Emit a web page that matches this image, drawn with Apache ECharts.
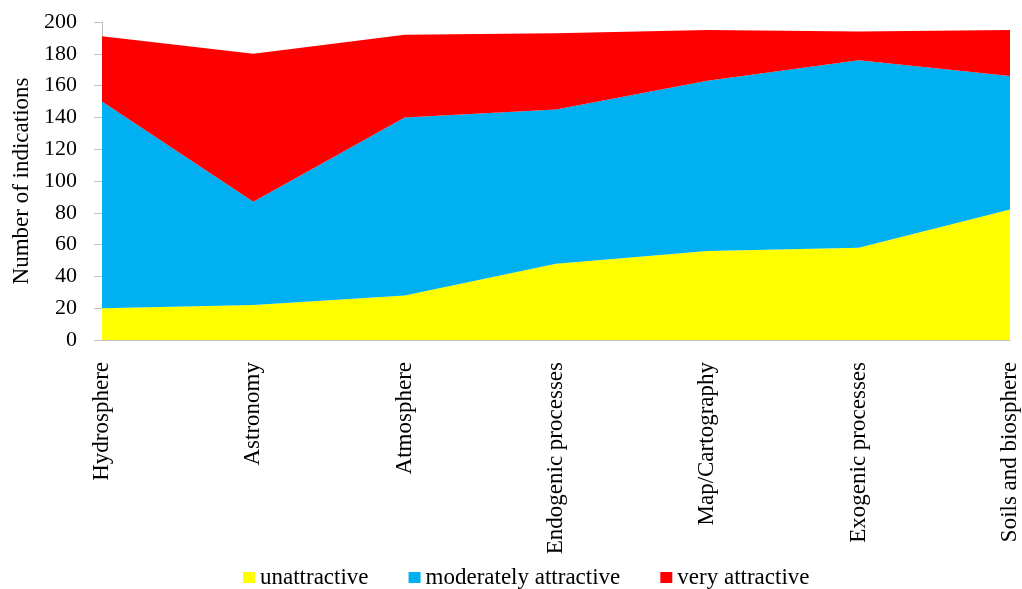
<!DOCTYPE html>
<html>
<head>
<meta charset="utf-8">
<script src="https://cdn.jsdelivr.net/npm/echarts@6/dist/echarts.min.js"></script>
<style>
html,body{margin:0;padding:0;background:#fff;}
#chart{width:1022px;height:589px;}
</style>
</head>
<body>
<div id="chart"></div>
<script>
const categories = ["Hydrosphere","Astronomy","Atmosphere","Endogenic processes","Map/Cartography","Exogenic processes","Soils and biosphere"];
const unattractive = [20, 22, 28, 48, 56, 58, 82];
const moderatelyAttractive = [130, 65, 112, 97, 107, 118, 84];
const veryAttractive = [41, 93, 52, 48, 32, 18, 29];
const yTicks = [0, 20, 40, 60, 80, 100, 120, 140, 160, 180, 200];

const font = "'Liberation Serif', 'Times New Roman', serif";
const chart = echarts.init(document.getElementById('chart'), null, {renderer: 'canvas'});

function areaSeries(name, data, color) {
  return {
    name: name,
    type: 'line',
    stack: 'total',
    data: data,
    symbol: 'none',
    lineStyle: {width: 0},
    itemStyle: {color: color},
    areaStyle: {color: color, opacity: 1},
    emphasis: {disabled: true}
  };
}

chart.setOption({
  animation: false,
  backgroundColor: '#ffffff',
  grid: {left: 102, right: 12, top: 22, bottom: 249},
  legend: {
    top: 561,
    left: 238,
    itemWidth: 12,
    itemHeight: 11,
    itemGap: 40,
    icon: 'rect',
    textStyle: {fontFamily: font, fontSize: 23, color: '#000'},
    data: ['unattractive', 'moderately attractive', 'very attractive']
  },
  xAxis: {
    type: 'category',
    data: categories,
    boundaryGap: false,
    axisLine: {lineStyle: {color: '#bfbfbf', width: 1}},
    axisTick: {show: false},
    axisLabel: {rotate: 90, margin: 22, interval: 0, fontFamily: font, fontSize: 23, color: '#000'}
  },
  yAxis: {
    type: 'value',
    min: yTicks[0],
    max: yTicks[yTicks.length - 1],
    interval: 20,
    name: 'Number of indications',
    nameLocation: 'middle',
    nameGap: 65,
    nameTextStyle: {fontFamily: font, fontSize: 23, color: '#000'},
    axisLine: {show: true, lineStyle: {color: '#bfbfbf', width: 1}},
    axisTick: {show: true, inside: false, length: 8, lineStyle: {color: '#bfbfbf'}},
    splitLine: {show: false},
    axisLabel: {margin: 25, fontFamily: font, fontSize: 22, color: '#000'}
  },
  series: [
    areaSeries('unattractive', unattractive, '#FFFF00'),
    areaSeries('moderately attractive', moderatelyAttractive, '#00B0F0'),
    areaSeries('very attractive', veryAttractive, '#FF0000')
  ]
});
</script>
</body>
</html>
